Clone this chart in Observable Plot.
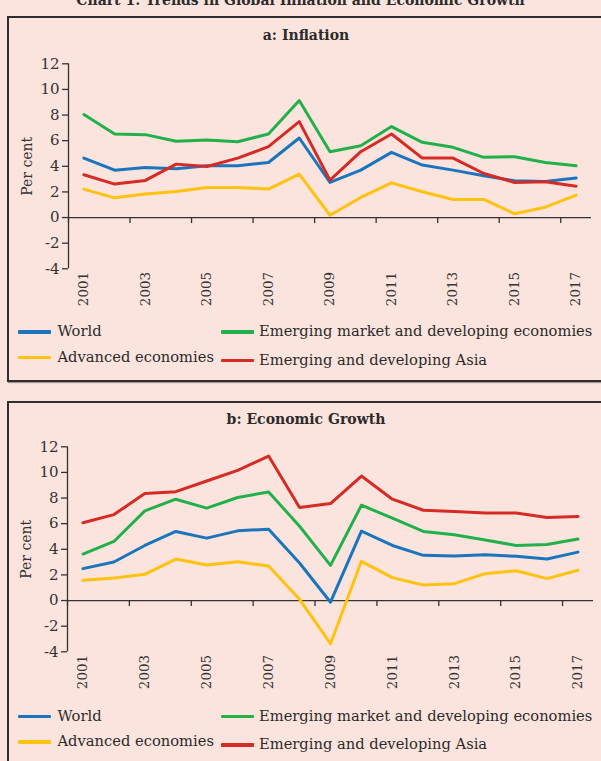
<!DOCTYPE html>
<html><head><meta charset="utf-8">
<script src="https://cdn.jsdelivr.net/npm/d3@7"></script>
<script src="https://cdn.jsdelivr.net/npm/@observablehq/plot@0.6"></script>
<style>
html,body{margin:0;padding:0;background:#FCE4DE;}
#root{position:relative;width:601px;height:761px;overflow:hidden;background:#FCE4DE;font-family:"DejaVu Serif",serif;color:#2b2b2b;}
.frame{position:absolute;left:7px;width:620px;border:2px solid #2e2e2e;box-sizing:border-box;box-shadow:1px 1px 1px rgba(0,0,0,0.35);}
.title{position:absolute;left:0;width:612px;text-align:center;font-weight:bold;font-size:14px;line-height:16px;white-space:nowrap;}
.plotbox{position:absolute;left:0;}
.leg{position:absolute;font-size:14.7px;line-height:16px;white-space:nowrap;}
.sw{position:absolute;height:3.5px;width:33px;border-radius:1px;}
</style></head><body><div id="root"></div>
<script>
// ---- data ----
const years = [2001,2002,2003,2004,2005,2006,2007,2008,2009,2010,2011,2012,2013,2014,2015,2016,2017];
const tickYears = [2001,2003,2005,2007,2009,2011,2013,2015,2017];
const yTicks = [-4,-2,0,2,4,6,8,10,12];
const seriesNames = ["World","Advanced economies","Emerging market and developing economies","Emerging and developing Asia"];
const seriesColors = ["#1B75BC","#FFC20E","#22B04B","#D52B24"];

const inflationWorld    = [4.64,3.70,3.91,3.81,4.04,4.04,4.30,6.21,2.74,3.70,5.09,4.10,3.70,3.26,2.87,2.82,3.08];
const inflationAdvanced = [2.22,1.54,1.83,2.03,2.35,2.35,2.22,3.39,0.18,1.57,2.71,2.01,1.41,1.41,0.29,0.81,1.75];
const inflationEMDE     = [8.04,6.52,6.47,5.95,6.05,5.92,6.52,9.13,5.14,5.61,7.10,5.87,5.48,4.70,4.75,4.30,4.04];
const inflationAsia     = [3.34,2.61,2.90,4.17,3.99,4.64,5.53,7.49,2.92,5.14,6.52,4.64,4.64,3.44,2.74,2.79,2.45];

const growthWorld    = [2.49,3.01,4.30,5.39,4.87,5.44,5.57,2.93,-0.13,5.42,4.30,3.53,3.47,3.58,3.45,3.24,3.78];
const growthAdvanced = [1.58,1.76,2.05,3.24,2.77,3.03,2.70,0.10,-3.37,3.06,1.79,1.22,1.32,2.10,2.33,1.71,2.36];
const growthEMDE     = [3.63,4.61,7.00,7.91,7.21,8.04,8.48,5.80,2.75,7.44,6.43,5.39,5.13,4.72,4.30,4.38,4.80];
const growthAsia     = [6.07,6.71,8.35,8.50,9.33,10.16,11.28,7.26,7.57,9.72,7.91,7.05,6.95,6.84,6.84,6.48,6.56];

const chartTitle = "Chart 1: Trends in Global Inflation and Economic Growth";
const panelTitles = ["a: Inflation", "b: Economic Growth"];
const yLabel = "Per cent";

// ---- drawing ----
const root = document.getElementById("root");
const tickBounds = tickYears.map(y => y - 0.5);
const xDomain = [years[0] - 0.5, years[years.length - 1] + 0.5];

function el(cls, css, text) {
  const d = document.createElement("div");
  d.className = cls;
  Object.assign(d.style, css);
  if (text != null) d.textContent = text;
  root.appendChild(d);
  return d;
}

function makePlot(values, ml, mr) {
  const rows = [];
  seriesNames.forEach((s, i) => values[i].forEach((v, j) => rows.push({year: years[j], value: v, series: s})));
  return Plot.plot({
    width: 601, height: 262,
    marginLeft: ml, marginRight: mr, marginTop: 13.3, marginBottom: 43.7,
    style: {fontFamily: "DejaVu Serif", fontSize: "15px", color: "#333", background: "transparent", overflow: "visible"},
    x: {type: "linear", domain: xDomain, axis: null},
    y: {domain: [yTicks[0], yTicks[yTicks.length - 1]], axis: null},
    color: {domain: seriesNames, range: seriesColors},
    marks: [
      Plot.ruleX([xDomain[0]], {stroke: "#333", strokeWidth: 1.3}),
      Plot.ruleY([0], {stroke: "#333", strokeWidth: 1.3}),
      Plot.ruleX(tickBounds, {x: d => d, y1: 0, y2: 0, insetBottom: -6, stroke: "#333", strokeWidth: 1.3}),
      Plot.axisY({ticks: yTicks, tickSize: 6, tickPadding: 3, fontSize: 15, label: null, tickFormat: d => String(d), stroke: "#333", strokeWidth: 1.3}),
      Plot.axisY({ticks: [], label: yLabel, labelAnchor: "center", labelOffset: 46, labelArrow: "none", fontSize: 14}),
      Plot.axisX({ticks: tickYears, tickSize: 0, tickPadding: 3, tickRotate: -90, fontSize: 13.5, tickFormat: d => String(d), label: null}),
      Plot.line(rows, {x: "year", y: "value", stroke: "series", z: "series", strokeWidth: 3})
    ]
  });
}

// chart title (partially cut off at top, as in the original crop)
el("title", {top: "-8px", left: "0px", width: "601px", fontSize: "14px"}, chartTitle);

const panels = [
  {values: [inflationWorld, inflationAdvanced, inflationEMDE, inflationAsia], frameTop: 16, frameH: 366, titleTop: 27, plotTop: 50, ml: 68, mr: 10, legY: [332, 357.5, 332, 360.5]},
  {values: [growthWorld, growthAdvanced, growthEMDE, growthAsia], frameTop: 401, frameH: 420, titleTop: 411, plotTop: 433.4, ml: 67, mr: 8, legY: [716.7, 742, 716.7, 745]}
];

panels.forEach((p, k) => {
  el("frame", {top: p.frameTop + "px", height: p.frameH + "px"});
  el("title", {top: p.titleTop + "px"}, panelTitles[k]);
  const box = el("plotbox", {top: p.plotTop + "px"});
  box.appendChild(makePlot(p.values, p.ml, p.mr));
  seriesNames.forEach((s, i) => {
    const col = i < 2 ? 0 : 1;
    const sx = col === 0 ? 18 : 221;
    const tx = col === 0 ? 57.5 : 259;
    const cy = p.legY[i];
    el("sw", {left: sx + "px", top: (cy - 1.75) + "px", background: seriesColors[i]});
    el("leg", {left: tx + "px", top: (cy - 9) + "px"}, s);
  });
});
</script>
</body></html>
